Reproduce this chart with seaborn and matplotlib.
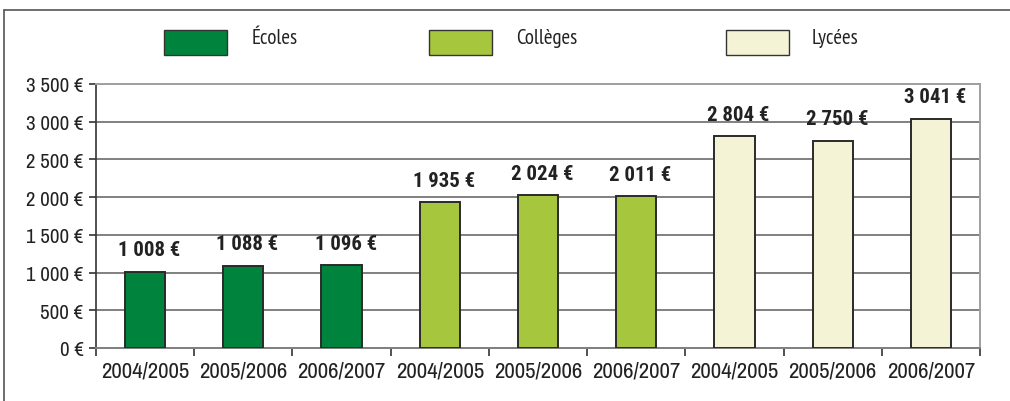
import matplotlib
matplotlib.use("Agg")
import matplotlib.pyplot as plt
from matplotlib.lines import Line2D
from matplotlib.patches import Rectangle
import seaborn as sns
import pandas as pd

groups = ["Écoles", "Écoles", "Écoles", "Collèges", "Collèges", "Collèges", "Lycées", "Lycées", "Lycées"]
years = ["2004/2005", "2005/2006", "2006/2007"] * 3
values = [1008, 1088, 1096, 1935, 2024, 2011, 2804, 2750, 3041]
legend_names = ["Écoles", "Collèges", "Lycées"]
colors = {"Écoles": "#00843D", "Collèges": "#A6C63D", "Lycées": "#F4F3D6"}
yticks = [0, 500, 1000, 1500, 2000, 2500, 3000, 3500]

sns.set_theme(style="white")
NARROW = ["Archivo Narrow", "Roboto Condensed", "DejaVu Sans"]
BOLDN = ["Roboto Condensed", "Archivo Narrow", "DejaVu Sans"]
LEGF = ["PT Sans Narrow", "Open Sans", "DejaVu Sans"]
plt.rcParams["font.family"] = NARROW

def fmt(v):
    return f"{v:,}".replace(",", " ") + " €"

df = pd.DataFrame({"pos": [f"{g} {y}" for g, y in zip(groups, years)],
                   "groupe": groups, "annee": years, "valeur": values})

fig = plt.figure(figsize=(10.1, 4.02), dpi=100)
ax = fig.add_axes([96/1010, 1-349/402, (980-96)/1010, (349-85)/402])
sns.barplot(data=df, x="pos", y="valeur", hue="groupe", palette=colors, dodge=False,
            saturation=1, width=0.41, edgecolor="#2a2a2a", linewidth=1.4, legend=False,
            ax=ax, zorder=3)

ax.set_xlim(-0.5, 8.5)
ax.set_ylim(0, 3500)
ax.set_yticks(yticks)
ax.set_yticklabels([fmt(v) for v in yticks], fontsize=15, color="#222222")
ax.set_xticks(range(9))
ax.set_xticklabels(years, fontsize=16.5, color="#222222")
ax.set_xticks([i - 0.5 for i in range(10)], minor=True)
ax.tick_params(axis="x", which="major", length=0, pad=9)
ax.tick_params(axis="x", which="minor", length=6, width=1.2, color="#333333", direction="out", bottom=True)
ax.tick_params(axis="y", length=5, width=1.2, color="#333333", direction="out", left=True, pad=4)
ax.set_xlabel("")
ax.set_ylabel("")
ax.yaxis.grid(True, color="#808080", linewidth=1.4, zorder=0)
ax.set_axisbelow(True)
for s in ["top", "right"]:
    ax.spines[s].set_color("#a0a0a0")
    ax.spines[s].set_linewidth(1.4)
ax.spines["left"].set_color("#333333")
ax.spines["left"].set_linewidth(1.2)
ax.spines["bottom"].set_color("#808080")
ax.spines["bottom"].set_linewidth(1.4)

for i, v in enumerate(values):
    ax.annotate(fmt(v), (i, v), xytext=(3, 9), textcoords="offset points",
                ha="center", va="bottom", fontsize=15, fontweight="bold", color="#222222",
                family=BOLDN)

# legend (manual)
leg_x = [164, 429, 726]
txt_x = [252, 516, 812]
for name, px, tx in zip(legend_names, leg_x, txt_x):
    fig.patches.append(Rectangle((px/1010, 1-56/402), 63/1010, 25/402, transform=fig.transFigure,
                                 facecolor=colors[name], edgecolor="#333333", linewidth=1.0))
    fig.text(tx/1010, 1-39/402, name, fontsize=15, color="#222222", va="center", ha="left",
             family=LEGF)

# outer frame
fig.add_artist(Line2D([4/1010, 4/1010], [0, 1-11/402], color="#555555", linewidth=1.2, transform=fig.transFigure))
fig.add_artist(Line2D([4/1010, 1], [1-11/402, 1-11/402], color="#555555", linewidth=1.2, transform=fig.transFigure))

fig.savefig("out.png", dpi=100)
